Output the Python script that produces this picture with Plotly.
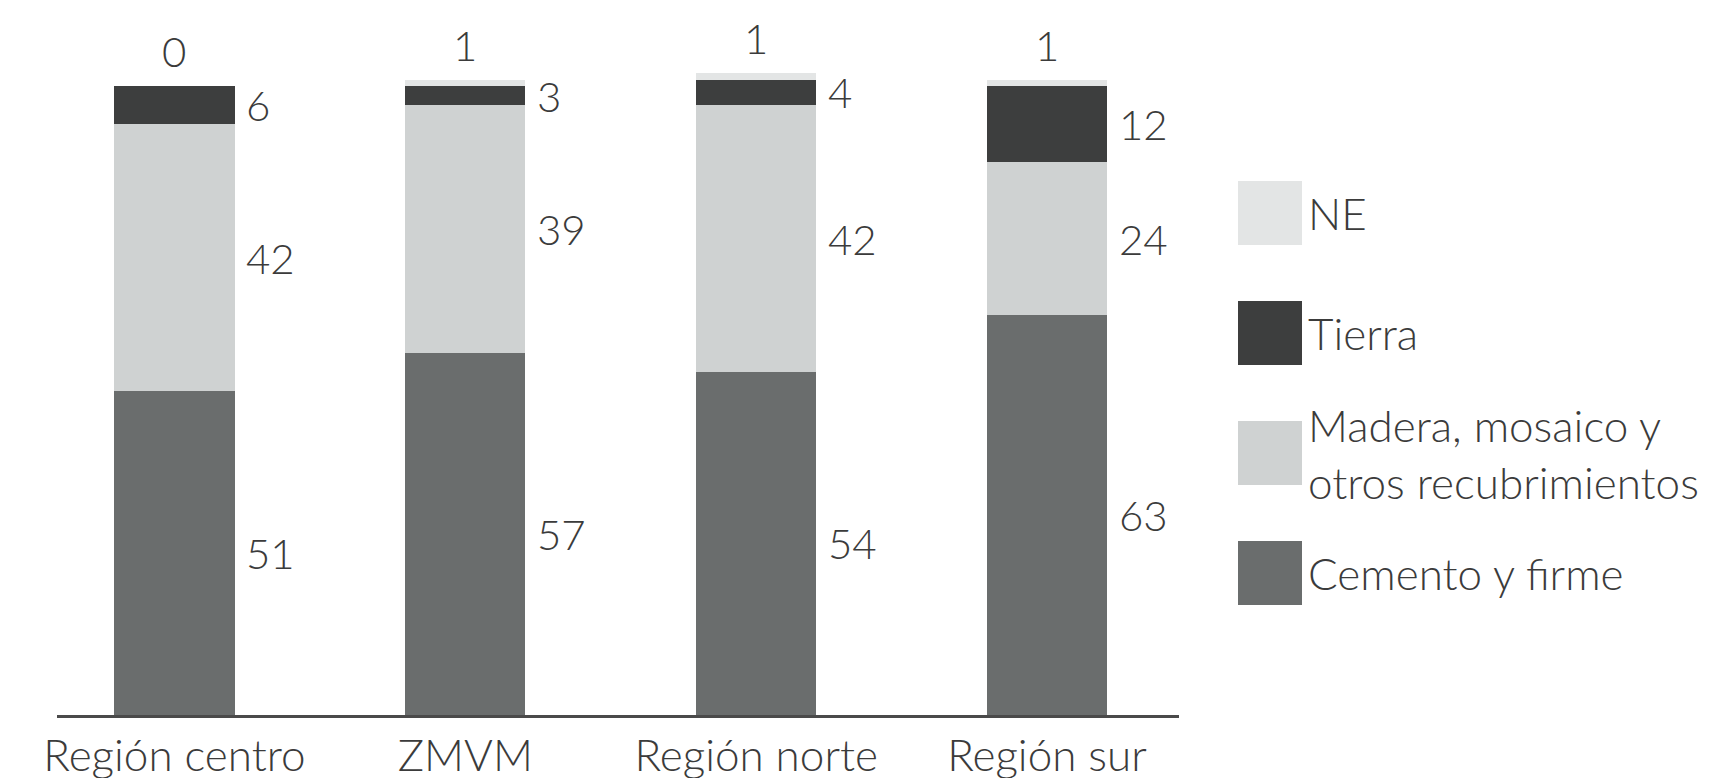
import plotly.graph_objects as go


# =========================================
# DATA
# =========================================
regiones = ["Región centro", "ZMVM", "Región norte", "Región sur"]

cemento = [51, 57, 54, 63]
madera = [42, 39, 42, 24]
tierra = [6, 3, 4, 12]
ne = [0, 1, 1, 1]

series_names = ["Cemento y firme", "Madera, mosaico y otros recubrimientos", "Tierra", "NE"]


# =========================================
# STYLE
# =========================================
COLOR_CEMENTO = "#6a6d6d"
COLOR_MADERA = "#cfd2d2"
COLOR_TIERRA = "#3d3e3e"
COLOR_NE = "#e3e5e5"
TEXT_COLOR = "#3b3b3b"
FONT_FAMILY = "Lato"
FONT_WEIGHT = 300
VALUE_SIZE = 42
LABEL_SIZE = 44

W, H = 1714, 778
PLOT_L, PLOT_R, PLOT_T, PLOT_B = 49, 1171, 0, 707


def px_x(p):
    return (p - PLOT_L) / (PLOT_R - PLOT_L)


def px_y(p):
    return (PLOT_B - p) / (PLOT_B - PLOT_T)


def font(size):
    return dict(size=size, color=TEXT_COLOR, family=FONT_FAMILY, weight=FONT_WEIGHT)


# =========================================
# BARS
# =========================================
series = [
    (series_names[0], cemento, COLOR_CEMENTO),
    (series_names[1], madera, COLOR_MADERA),
    (series_names[2], tierra, COLOR_TIERRA),
    (series_names[3], ne, COLOR_NE),
]

fig = go.Figure()
for name, vals, color in series:
    fig.add_trace(go.Bar(
        x=regiones,
        y=vals,
        name=name,
        marker=dict(color=color, line=dict(width=0)),
        showlegend=False,
    ))

# value labels
annotations = []
for i, reg in enumerate(regiones):
    base = 0
    for vals in [cemento, madera, tierra]:
        v = vals[i]
        annotations.append(dict(
            x=reg, y=base + v / 2, xref="x", yref="y",
            text=str(v), showarrow=False,
            xanchor="left", yanchor="middle", xshift=70,
            font=font(VALUE_SIZE),
        ))
        base += v
    annotations.append(dict(
        x=reg, y=base + ne[i], xref="x", yref="y",
        text=str(ne[i]), showarrow=False,
        xanchor="center", yanchor="bottom", yshift=8,
        font=font(VALUE_SIZE),
    ))

# =========================================
# LEGEND (drawn by hand, big squares)
# =========================================
legend_items = [
    ("NE", COLOR_NE),
    ("Tierra", COLOR_TIERRA),
    ("Madera, mosaico y<br>otros recubrimientos", COLOR_MADERA),
    ("Cemento y firme", COLOR_CEMENTO),
]

shapes = []
for k, (label, color) in enumerate(legend_items):
    top = 173 + 120 * k
    shapes.append(dict(
        type="rect", xref="paper", yref="paper",
        x0=px_x(1230), x1=px_x(1294), y0=px_y(top + 64), y1=px_y(top),
        fillcolor=color, line=dict(width=0),
    ))
    annotations.append(dict(
        x=px_x(1298), y=px_y(top + 32), xref="paper", yref="paper",
        text=label, showarrow=False, xanchor="left", yanchor="middle",
        align="left", font=font(LABEL_SIZE),
    ))

fig.update_layout(
    width=W,
    height=H,
    barmode="stack",
    bargap=0.587,
    paper_bgcolor="white",
    plot_bgcolor="white",
    font=font(LABEL_SIZE),
    margin=dict(l=PLOT_L, r=W - PLOT_R, t=PLOT_T, b=H - PLOT_B),
    annotations=annotations,
    shapes=shapes,
    showlegend=False,
)

fig.update_xaxes(
    range=[-0.404, 3.454],
    showline=True,
    linecolor="#4a4a4a",
    linewidth=3,
    showgrid=False,
    ticks="",
    tickfont=font(LABEL_SIZE),
)

fig.update_yaxes(
    range=[0, 111.3],
    visible=False,
)

fig.write_html("out.html")
